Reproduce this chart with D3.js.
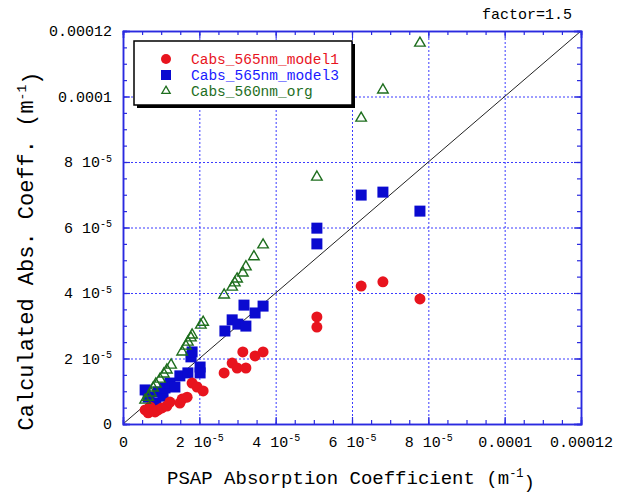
<!DOCTYPE html>
<meta charset="utf-8">
<html>
<head>
<script src="https://d3js.org/d3.v7.min.js"></script>
<style>
  body { margin: 0; background: #fff; }
  .tick text { font-family: "Liberation Mono", monospace; font-size: 15px; fill: #000; }
</style>
</head>
<body>
<div id="chart"></div>
<script>
// PSAP vs calculated absorption
const model1 = [
  [0.58e-5, 0.43e-5], [0.66e-5, 0.34e-5], [0.71e-5, 0.52e-5], [0.84e-5, 0.37e-5],
  [0.92e-5, 0.43e-5], [1.02e-5, 0.49e-5], [1.15e-5, 0.55e-5], [1.23e-5, 0.67e-5],
  [1.49e-5, 0.64e-5], [1.55e-5, 0.76e-5], [1.68e-5, 0.82e-5], [1.81e-5, 1.25e-5],
  [1.94e-5, 1.13e-5], [2.10e-5, 1.01e-5], [2.65e-5, 1.56e-5], [2.86e-5, 1.86e-5],
  [2.99e-5, 1.71e-5], [3.22e-5, 1.71e-5], [3.14e-5, 2.20e-5], [3.46e-5, 2.08e-5],
  [3.67e-5, 2.20e-5], [5.08e-5, 3.27e-5], [5.08e-5, 2.96e-5], [6.24e-5, 4.21e-5],
  [6.81e-5, 4.34e-5], [7.78e-5, 3.82e-5]
];
const model3 = [
  [0.58e-5, 1.04e-5], [0.66e-5, 0.82e-5], [0.79e-5, 0.64e-5], [0.86e-5, 0.58e-5],
  [0.92e-5, 0.98e-5], [1.05e-5, 0.85e-5], [1.10e-5, 1.10e-5], [1.23e-5, 1.25e-5],
  [1.36e-5, 1.13e-5], [1.49e-5, 1.47e-5], [1.70e-5, 1.56e-5], [1.78e-5, 2.05e-5],
  [1.81e-5, 2.20e-5], [2.02e-5, 1.74e-5], [2.02e-5, 1.56e-5], [2.67e-5, 2.84e-5],
  [2.86e-5, 3.18e-5], [3.01e-5, 3.05e-5], [3.22e-5, 2.99e-5], [3.17e-5, 3.63e-5],
  [3.46e-5, 3.39e-5], [3.67e-5, 3.60e-5], [5.08e-5, 5.98e-5], [5.08e-5, 5.50e-5],
  [6.24e-5, 6.99e-5], [6.81e-5, 7.08e-5], [7.78e-5, 6.50e-5]
];
const org = [
  [0.58e-5, 0.73e-5], [0.66e-5, 0.82e-5], [0.73e-5, 0.95e-5], [0.79e-5, 1.10e-5],
  [0.86e-5, 1.22e-5], [0.97e-5, 1.37e-5], [1.07e-5, 1.53e-5], [1.15e-5, 1.65e-5],
  [1.26e-5, 1.80e-5], [1.55e-5, 2.20e-5], [1.65e-5, 2.38e-5], [1.70e-5, 2.50e-5],
  [1.78e-5, 2.63e-5], [1.81e-5, 2.72e-5], [2.04e-5, 3.02e-5], [2.10e-5, 3.11e-5],
  [2.65e-5, 3.94e-5], [2.86e-5, 4.18e-5], [2.93e-5, 4.31e-5], [2.99e-5, 4.43e-5],
  [3.14e-5, 4.61e-5], [3.22e-5, 4.80e-5], [3.43e-5, 5.11e-5], [3.67e-5, 5.47e-5],
  [5.08e-5, 7.54e-5], [6.24e-5, 9.34e-5], [6.81e-5, 10.20e-5], [7.78e-5, 11.63e-5]
];
const majorTicks = [0, 2e-5, 4e-5, 6e-5, 8e-5, 1e-4, 1.2e-4];
const tickLabels = [["0", ""], ["2 10", "-5"], ["4 10", "-5"], ["6 10", "-5"], ["8 10", "-5"], ["0.0001", ""], ["0.00012", ""]];
const legendNames = ["Cabs_565nm_model1", "Cabs_565nm_model3", "Cabs_560nm_org"];

const margin = {top: 31, right: 40, bottom: 71, left: 123},
      width = 621 - margin.left - margin.right,
      height = 495 - margin.top - margin.bottom;

const axisBlue = "#2a2ae0";
const red = "#e8141e", blue = "#0a0ad0", green = "#1e6e1e";

const svg = d3.select("#chart").append("svg")
    .attr("width", 621).attr("height", 495)
  .append("g")
    .attr("transform", `translate(${margin.left},${margin.top})`);

const x = d3.scaleLinear().domain([0, 1.2e-4]).range([0, width]);
const y = d3.scaleLinear().domain([0, 1.2e-4]).range([height, 0]);

// dotted grid
svg.append("g").attr("transform", `translate(0,${height})`)
  .call(d3.axisBottom(x).tickValues(majorTicks.slice(1, -1)).tickSize(-height).tickFormat(""))
  .call(g => g.select(".domain").remove());
svg.append("g")
  .call(d3.axisLeft(y).tickValues(majorTicks.slice(1, -1)).tickSize(-width).tickFormat(""))
  .call(g => g.select(".domain").remove());
svg.selectAll(".tick line").attr("stroke", "#3b3bff").attr("stroke-dasharray", "2,2").attr("stroke-width", 1);

// 1:1 line
svg.append("line")
  .attr("x1", x(0)).attr("y1", y(0)).attr("x2", x(1.2e-4)).attr("y2", y(1.2e-4))
  .attr("stroke", "#222").attr("stroke-width", 1);

function styleAxis(g) {
  g.select(".domain").attr("stroke", axisBlue).attr("stroke-width", 1.5);
  g.selectAll(".tick line").attr("stroke", axisBlue).attr("stroke-width", 1.2);
}
function labelTicks(g) {
  g.selectAll(".tick text").each(function(d, i) {
    const t = d3.select(this).text(null);
    const lab = tickLabels[majorTicks.indexOf(d)];
    t.append("tspan").text(lab[0]);
    if (lab[1]) t.append("tspan").attr("dy", "-0.55em").attr("font-size", "10px").text(lab[1]);
  });
}

// minor ticks on all four sides
const minor = x.ticks(24);
svg.append("g").attr("transform", `translate(0,${height})`).call(d3.axisBottom(x).tickValues(minor).tickSize(-4).tickFormat("")).call(styleAxis);
svg.append("g").call(d3.axisTop(x).tickValues(minor).tickSize(-4).tickFormat("")).call(styleAxis);
svg.append("g").call(d3.axisLeft(y).tickValues(minor).tickSize(-4).tickFormat("")).call(styleAxis);
svg.append("g").attr("transform", `translate(${width},0)`).call(d3.axisRight(y).tickValues(minor).tickSize(-4).tickFormat("")).call(styleAxis);

// major ticks with labels
svg.append("g").attr("transform", `translate(0,${height})`)
  .call(d3.axisBottom(x).tickValues(majorTicks).tickSize(-7).tickPadding(12))
  .call(styleAxis).call(labelTicks);
svg.append("g")
  .call(d3.axisLeft(y).tickValues(majorTicks).tickSize(-7).tickPadding(11))
  .call(styleAxis).call(labelTicks);
svg.append("g").call(d3.axisTop(x).tickValues(majorTicks).tickSize(-7).tickFormat("")).call(styleAxis);
svg.append("g").attr("transform", `translate(${width},0)`)
  .call(d3.axisRight(y).tickValues(majorTicks).tickSize(-7).tickFormat("")).call(styleAxis);

// points
svg.append("g").selectAll("rect").data(model3).join("rect")
  .attr("x", d => x(d[0]) - 5.5).attr("y", d => y(d[1]) - 5.5)
  .attr("width", 11).attr("height", 11).attr("fill", blue);
svg.append("g").selectAll("circle").data(model1).join("circle")
  .attr("cx", d => x(d[0])).attr("cy", d => y(d[1])).attr("r", 5.5).attr("fill", red);
const tri = d3.symbol(d3.symbolTriangle, 48);
svg.append("g").selectAll("path").data(org).join("path")
  .attr("d", tri).attr("transform", d => `translate(${x(d[0])},${y(d[1])})`)
  .attr("fill", "none").attr("stroke", green).attr("stroke-width", 1.4);

// legend
const lg = svg.append("g").attr("transform", "translate(11,10)");
lg.append("rect").attr("x", 3).attr("y", 3).attr("width", 218).attr("height", 64).attr("fill", "#000");
lg.append("rect").attr("x", 0).attr("y", 0).attr("width", 218).attr("height", 64)
  .attr("fill", "#fff").attr("stroke", "#000").attr("stroke-width", 1.5);
const cols = [red, "#1a1aff", green];
legendNames.forEach((name, i) => {
  const cy = 18 + i * 16;
  if (i === 0) lg.append("circle").attr("cx", 32).attr("cy", cy).attr("r", 5).attr("fill", red);
  if (i === 1) lg.append("rect").attr("x", 27).attr("y", cy - 5).attr("width", 10).attr("height", 10).attr("fill", blue);
  if (i === 2) lg.append("path").attr("d", d3.symbol(d3.symbolTriangle, 30)).attr("transform", `translate(32,${cy})`)
      .attr("fill", "none").attr("stroke", green).attr("stroke-width", 1.3);
  lg.append("text").attr("x", 57).attr("y", cy + 5)
    .style("font-family", "Liberation Mono, monospace").style("font-size", "14.5px")
    .attr("fill", cols[i]).text(name);
});

// titles
const xt = svg.append("text").attr("x", width / 2 - 1).attr("y", height + 60)
  .attr("text-anchor", "middle").style("font-family", "Liberation Mono, monospace").style("font-size", "19px");
xt.append("tspan").text("PSAP Absorption Coefficient (m");
xt.append("tspan").attr("dy", "-0.55em").style("font-size", "12px").text("-1");
xt.append("tspan").attr("dy", "0.55em").text(")");

const yt = svg.append("text").attr("transform", `translate(${33 - margin.left},${251 - margin.top}) rotate(-90)`)
  .attr("text-anchor", "middle").style("font-family", "Liberation Mono, monospace").style("font-size", "22px");
yt.append("tspan").text("Calculated Abs. Coeff. (m");
yt.append("tspan").attr("dy", "-0.55em").style("font-size", "13px").text("-1");
yt.append("tspan").attr("dy", "0.55em").text(")");

svg.append("text").attr("x", width - 9).attr("y", -12).attr("text-anchor", "end")
  .style("font-family", "Liberation Mono, monospace").style("font-size", "15px").text("factor=1.5");
</script>
</body>
</html>
